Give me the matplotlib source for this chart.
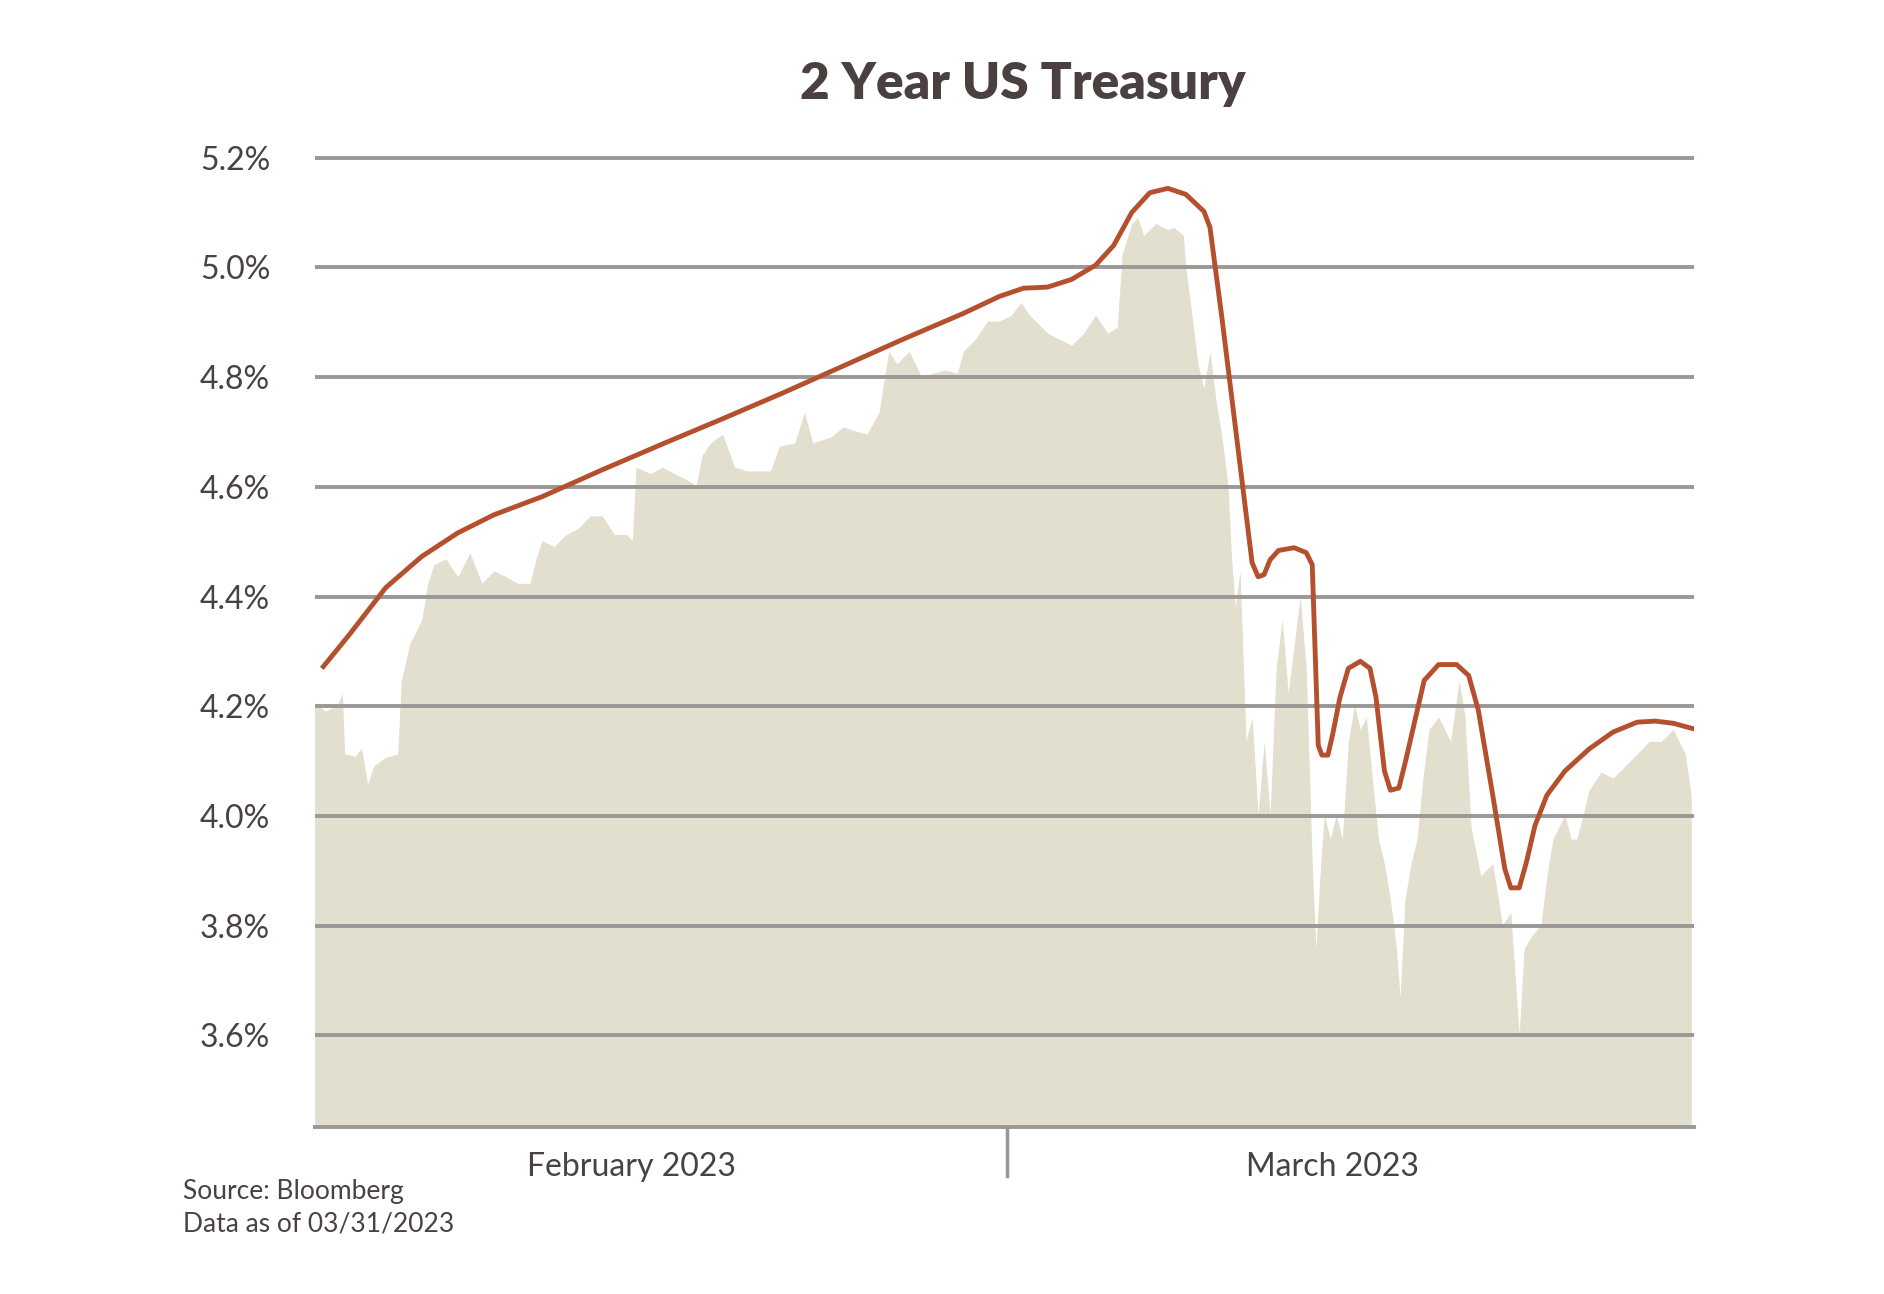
import numpy as np
import matplotlib
matplotlib.use("Agg")
import matplotlib.pyplot as plt

# time axis in chart units (0 = Feb 1 open, 575 = Mar 1, 1146 = Mar 31)
t_yield = [0,9,19,23,25,34,39,44,49,59,69,72,79,89,94,99,109,119,129,139,149,159,169,179,184,189,199,209,219,229,239,249,259,264,267,279,289,299,309,317,322,329,339,349,359,379,386,399,407,414,429,439,449,459,469,477,484,494,504,514,524,534,539,549,559,569,579,587,594,609,619,629,639,649,659,667,671,679,684,689,694,699,709,714,722,724,729,734,739,744,749,754,759,762,765,769,774,779,784,789,794,799,804,809,814,819,824,829,832,836,839,844,849,854,859,864,869,874,879,884,889,894,899,902,906,911,916,921,926,934,944,951,956,961,969,979,987,994,1001,1005,1011,1019,1024,1029,1039,1044,1049,1054,1059,1069,1079,1089,1099,1109,1119,1129,1139,1144]
y_yield = [4.207,4.191,4.202,4.224,4.113,4.109,4.124,4.058,4.091,4.107,4.113,4.247,4.313,4.358,4.424,4.458,4.469,4.436,4.480,4.424,4.447,4.436,4.424,4.424,4.469,4.502,4.491,4.513,4.524,4.547,4.547,4.513,4.513,4.502,4.636,4.624,4.636,4.624,4.613,4.602,4.658,4.680,4.696,4.636,4.629,4.629,4.674,4.680,4.736,4.680,4.691,4.709,4.702,4.696,4.736,4.847,4.824,4.847,4.802,4.807,4.813,4.807,4.847,4.869,4.902,4.902,4.913,4.936,4.913,4.880,4.869,4.858,4.880,4.913,4.880,4.891,5.024,5.080,5.091,5.058,5.069,5.080,5.069,5.073,5.058,4.998,4.913,4.824,4.780,4.847,4.758,4.691,4.602,4.469,4.380,4.447,4.136,4.180,4.002,4.136,4.002,4.269,4.358,4.224,4.313,4.402,4.269,3.913,3.758,3.913,4.002,3.958,4.002,3.958,4.136,4.202,4.158,4.180,4.069,3.958,3.913,3.847,3.758,3.669,3.847,3.913,3.958,4.069,4.158,4.180,4.136,4.247,4.180,3.980,3.891,3.913,3.802,3.824,3.602,3.758,3.780,3.802,3.891,3.958,4.002,3.958,3.958,4.002,4.047,4.080,4.069,4.091,4.113,4.136,4.136,4.158,4.113,4.036]

t_env = [6,29,59,89,119,149,189,239,289,339,389,439,489,539,569,589,609,629,649,664,679,694,709,724,739,744,754,769,779,784,789,794,801,814,824,829,834,837,842,846,852,859,869,877,882,889,894,901,907,914,922,934,949,959,967,979,989,994,1001,1007,1014,1024,1039,1059,1079,1099,1114,1129,1144,1152]
y_env = [4.269,4.331,4.416,4.473,4.516,4.549,4.582,4.631,4.678,4.724,4.771,4.820,4.869,4.916,4.947,4.962,4.964,4.978,5.004,5.040,5.100,5.136,5.144,5.133,5.102,5.073,4.907,4.640,4.462,4.436,4.440,4.467,4.484,4.489,4.480,4.458,4.129,4.111,4.111,4.149,4.216,4.269,4.282,4.269,4.216,4.082,4.047,4.051,4.104,4.171,4.247,4.276,4.276,4.256,4.193,4.038,3.904,3.869,3.869,3.916,3.982,4.038,4.082,4.122,4.153,4.171,4.173,4.169,4.160,4.156]

y_ticks = [3.6,3.8,4.0,4.2,4.4,4.6,4.8,5.0,5.2]
month_labels = ["February 2023", "March 2023"]

plt.rcParams['font.family'] = ['Lato', 'DejaVu Sans']
fig = plt.figure(figsize=(18.84,12.94), dpi=100)
ax = fig.add_axes([0.167,0.129,0.732,0.753])
ax.fill_between(t_yield, y_yield, 3.0, color="#e2dfcf", lw=0, zorder=1)
ax.plot(t_env, y_env, color="#b5502f", lw=3.5, zorder=3, solid_capstyle="butt")
for v in y_ticks:
    ax.axhline(v, color="#9a9896", lw=2.8, zorder=2)
ax.set_xlim(0,1146)
ax.set_ylim(3.433,5.209)
ax.set_yticks(y_ticks)
ax.set_yticklabels([f"{v:.1f}%" for v in y_ticks], fontsize=23, color="#4a4242")
ax.tick_params(axis="y", length=0, pad=32)
ax.set_xticks([263,846])
ax.set_xticklabels(month_labels, fontsize=23, color="#4a4242")
ax.tick_params(axis="x", length=0, pad=18)
for s in ["top","right","left"]:
    ax.spines[s].set_visible(False)
ax.spines["bottom"].set_color("#9a9896"); ax.spines["bottom"].set_linewidth(2.8)
ax.plot([575,575],[0,-0.05], transform=ax.get_xaxis_transform(), color="#9a9896", lw=2.5, clip_on=False)
fig.text(0.543,0.935,"2 Year US Treasury", ha="center", va="center", fontsize=37, fontweight="heavy", color="#4a4040")
fig.text(0.097,0.079,"Source: Bloomberg", fontsize=19, color="#4a4242", va="center")
fig.text(0.097,0.054,"Data as of 03/31/2023", fontsize=19, color="#4a4242", va="center")
fig.savefig("out.png", dpi=100)
